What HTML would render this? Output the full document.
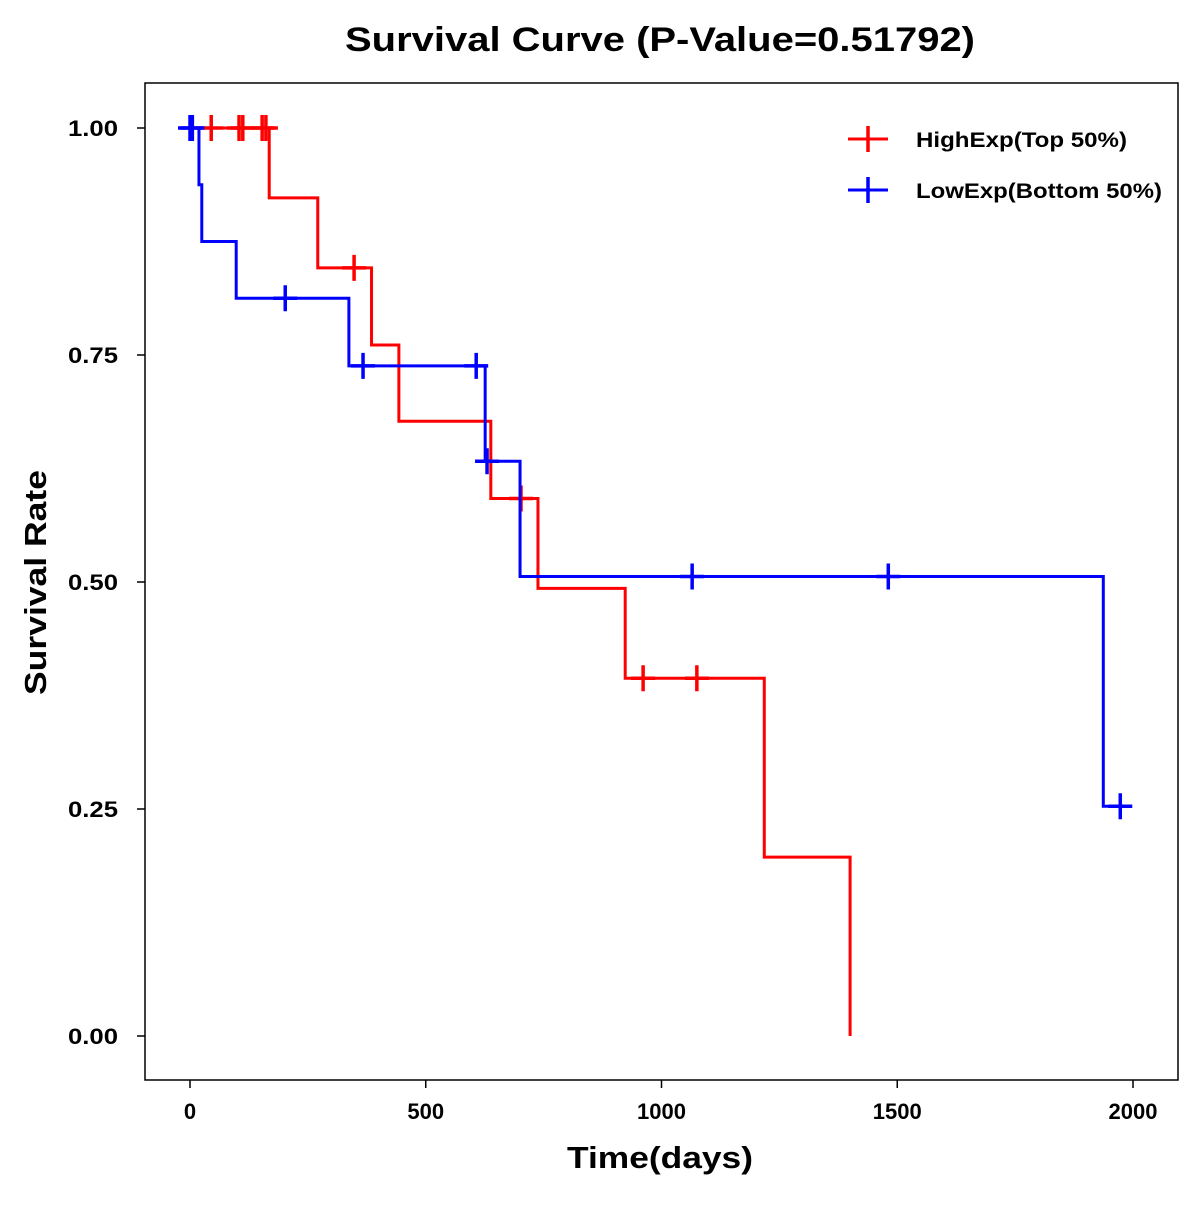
<!DOCTYPE html>
<html><head><meta charset="utf-8"><style>
html,body{margin:0;padding:0;background:#fff;}
svg text{font-family:"Liberation Sans",Arial,sans-serif;font-weight:bold;fill:#000;}
</style></head><body>
<svg id="chart" width="1200" height="1200" xmlns="http://www.w3.org/2000/svg">
<rect width="1200" height="1200" fill="#fff"/>
<text x="345" y="51" font-size="34" textLength="630" lengthAdjust="spacingAndGlyphs">Survival Curve (P-Value=0.51792)</text>
<rect x="145" y="83" width="1033" height="997" fill="none" stroke="#000" stroke-width="1.5"/>
<g id="axes"></g>
<g id="series"></g>
<text x="567" y="1168" font-size="31" textLength="186" lengthAdjust="spacingAndGlyphs">Time(days)</text>
<text transform="translate(46,695) rotate(-90)" font-size="31" textLength="225" lengthAdjust="spacingAndGlyphs">Survival Rate</text>
<g>
 <g>
  <line x1="848" y1="139" x2="888" y2="139" stroke="#f00" stroke-width="3"/>
  <line x1="868" y1="126" x2="868" y2="152" stroke="#f00" stroke-width="3.5"/>
  <text x="916" y="147" font-size="21" textLength="211" lengthAdjust="spacingAndGlyphs">HighExp(Top 50%)</text>
 </g>
 <g>
  <line x1="848" y1="190" x2="888" y2="190" stroke="#00f" stroke-width="3"/>
  <line x1="868" y1="177" x2="868" y2="203" stroke="#00f" stroke-width="3.5"/>
  <text x="916" y="198" font-size="21" textLength="246" lengthAdjust="spacingAndGlyphs">LowExp(Bottom 50%)</text>
 </g>
</g>
</svg>
<script>
const xTicks = [0, 500, 1000, 1500, 2000];
const yTicks = [0, 0.25, 0.5, 0.75, 1.0];
const yTickLabels = ["0.00", "0.25", "0.50", "0.75", "1.00"];
const highEventTimes = [168, 271, 385, 443, 638, 738, 923, 1218, 1400];
const highSurv = [0.923, 0.846, 0.761, 0.677, 0.592, 0.493, 0.394, 0.197, 0.0];
const highCensorTimes = [45, 104, 112, 153, 161, 348, 702, 961, 1075];
const highLastTime = 196;
const lowEventTimes = [19, 25, 98, 337, 626, 700, 1937];
const lowSurv = [0.9375, 0.875, 0.8125, 0.738, 0.633, 0.506, 0.253];
const lowCensorTimes = [0, 5, 202, 367, 607, 630, 1065, 1481, 1973];
const lowLastTime = 1990;

const NS = "http://www.w3.org/2000/svg";
function xs(t){ return 190 + t * (1133 - 190) / 2000; }
function ys(s){ return 1036 - s * (1036 - 128); }
function mk(tag, attrs, parent){
  const e = document.createElementNS(NS, tag);
  for (const k in attrs) e.setAttribute(k, attrs[k]);
  parent.appendChild(e); return e;
}
const axes = document.getElementById('axes');
xTicks.forEach(v => {
  const l = mk('line', {x1: xs(v), x2: xs(v), y1: 1080, y2: 1088, stroke: '#000', 'stroke-width': 1.5}, axes);
  
  
  const t = mk('text', {x: xs(v), y: 1119, 'font-size': 22, 'text-anchor': 'middle'}, axes);
  t.textContent = v;
  
  
});
yTicks.forEach((v, i) => {
  const l = mk('line', {x1: 137, x2: 145, y1: ys(v), y2: ys(v), stroke: '#000', 'stroke-width': 1.5}, axes);
  
  
  const t = mk('text', {x: 68, y: ys(v) + 8, 'font-size': 22, textLength: 50, lengthAdjust: 'spacingAndGlyphs'}, axes);
  t.textContent = yTickLabels[i];
  
  
});
function survAt(t, times, surv){
  let s = 1;
  for (let i = 0; i < times.length; i++) if (times[i] <= t) s = surv[i];
  return s;
}
const series = document.getElementById('series');
function draw(times, surv, censors, lastT, color, name){
  const g = mk('g', {}, series);
  
  
  let d = 'M' + xs(0) + ' ' + ys(1);
  times.forEach((t, i) => {
    d += ' H' + xs(t) + ' V' + ys(surv[i]);
  });
  if (lastT > times[times.length - 1]) d += ' H' + xs(lastT);
  const p = mk('path', {d: d, fill: 'none', stroke: color, 'stroke-width': 3}, g);
  
  
  censors.forEach(c => {
    const y = ys(survAt(c, times, surv));
    const m = mk('path', {d: 'M' + (xs(c) - 12) + ' ' + y + ' H' + (xs(c) + 12) + ' M' + xs(c) + ' ' + (y - 13) + ' V' + (y + 13), stroke: color, 'stroke-width': 3.5, fill: 'none'}, g);
    
    
  });
}
draw(highEventTimes, highSurv, highCensorTimes, highLastTime, '#f00', 'high-exp');
draw(lowEventTimes, lowSurv, lowCensorTimes, lowLastTime, '#00f', 'low-exp');
</script>
</body></html>
